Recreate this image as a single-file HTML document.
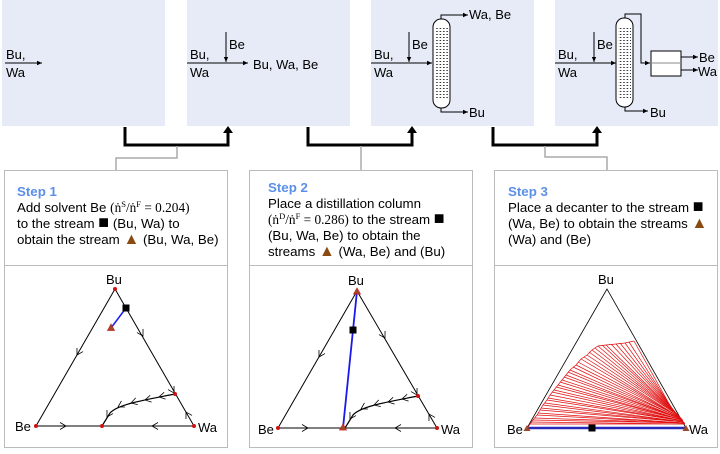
<!DOCTYPE html>
<html><head><meta charset="utf-8"><style>
body{margin:0;width:720px;height:449px;background:#fff;overflow:hidden;font-family:"Liberation Sans",sans-serif}
svg text{font-family:"Liberation Sans",sans-serif}
.m{font-family:"Liberation Serif",serif}
</style></head><body>
<svg width="720" height="449" viewBox="0 0 720 449" xmlns="http://www.w3.org/2000/svg">
<defs>
<marker id="a" markerWidth="6" markerHeight="6" refX="5" refY="3" orient="auto" markerUnits="userSpaceOnUse"><path d="M0,0.8L5,3L0,5.2z" fill="#000"/></marker>
<pattern id="dots" width="3.4" height="3" patternUnits="userSpaceOnUse"><rect x="1" y="1" width="1.6" height="1" fill="#333"/></pattern>
<path id="ch" d="M-6,-3.5L0,0L-6,3.5" fill="none" stroke="#000" stroke-width="0.8"/>
</defs>
<!-- top panels -->
<g fill="#e6ebf7">
<rect x="2" y="0" width="163" height="126"/><rect x="187" y="0" width="163" height="126"/>
<rect x="371" y="0" width="163" height="126"/><rect x="555" y="0" width="163" height="126"/>
</g>
<g font-size="13" fill="#000">
<line x1="5" y1="63" x2="42" y2="63" stroke="#000" stroke-width="1" marker-end="url(#a)"/>
<text x="6" y="59">Bu,</text><text x="6" y="77">Wa</text>
<line x1="187" y1="63" x2="248" y2="63" stroke="#000" marker-end="url(#a)"/>
<line x1="226" y1="32" x2="226" y2="62" stroke="#000" marker-end="url(#a)"/>
<text x="229" y="49">Be</text><text x="190" y="59">Bu,</text><text x="190" y="77">Wa</text>
<text x="253" y="69">Bu, Wa, Be</text>
<line x1="371" y1="63" x2="432" y2="63" stroke="#000" marker-end="url(#a)"/>
<line x1="409" y1="32" x2="409" y2="62" stroke="#000" marker-end="url(#a)"/>
<text x="412" y="49">Be</text><text x="374" y="59">Bu,</text><text x="374" y="77">Wa</text>
<rect x="433" y="19" width="17" height="89" rx="8" fill="#fff" stroke="#000"/>
<rect x="435" y="27" width="13" height="73" fill="url(#dots)"/>
<polyline points="441,19 441,15 468,15" fill="none" stroke="#000" marker-end="url(#a)"/>
<polyline points="441,108 441,112 468,112" fill="none" stroke="#000" marker-end="url(#a)"/>
<text x="469" y="19">Wa, Be</text><text x="469" y="117">Bu</text>
<line x1="555" y1="63" x2="616" y2="63" stroke="#000" marker-end="url(#a)"/>
<line x1="594" y1="32" x2="594" y2="62" stroke="#000" marker-end="url(#a)"/>
<text x="597" y="49">Be</text><text x="558" y="59">Bu,</text><text x="558" y="77">Wa</text>
<rect x="616" y="18" width="17" height="89" rx="8" fill="#fff" stroke="#000"/>
<rect x="618" y="26" width="13" height="73" fill="url(#dots)"/>
<polyline points="625,18 625,14 641,14 641,63 650,63" fill="none" stroke="#000" marker-end="url(#a)"/>
<rect x="651" y="51" width="30" height="25" fill="#fff" stroke="#000"/>
<line x1="651" y1="63" x2="681" y2="63" stroke="#888"/>
<line x1="681" y1="57" x2="698" y2="57" stroke="#000" marker-end="url(#a)"/>
<line x1="681" y1="70" x2="698" y2="70" stroke="#000" marker-end="url(#a)"/>
<text x="699" y="62">Be</text><text x="698" y="76">Wa</text>
<polyline points="625,107 625,111 648,111" fill="none" stroke="#000" marker-end="url(#a)"/>
<text x="650" y="117">Bu</text>
</g>
<g fill="none" stroke="#000" stroke-width="3">
<polyline points="125,127 125,145 228,145 228,131"/>
<polyline points="308,127 308,145 412,145 412,131"/>
<polyline points="493,127 493,145 597,145 597,131"/>
</g>
<g fill="#000"><path d="M223,133L228,126L233,133z"/><path d="M407,133L412,126L417,133z"/><path d="M592,133L597,126L602,133z"/></g>
<g fill="none" stroke="#aaa" stroke-width="1.5">
<polyline points="177,146 177,158 116,158 116,170"/>
<polyline points="361,146 361,170"/>
<polyline points="545,146 545,157 607,157 607,170"/>
</g>
<g fill="#fff" stroke="#bbb">
<rect x="4.5" y="170.5" width="223" height="277"/><line x1="4.5" y1="265.5" x2="227.5" y2="265.5"/>
<rect x="249.5" y="170.5" width="223" height="277"/><line x1="249.5" y1="265.5" x2="472.5" y2="265.5"/>
<rect x="494.5" y="170.5" width="223" height="277"/><line x1="494.5" y1="265.5" x2="717.5" y2="265.5"/>
</g>
<g font-size="13.3" fill="#000">
<text x="17" y="196" fill="#5b8fe8" font-weight="bold">Step 1</text>
<text x="17" y="212">Add solvent Be <tspan class="m">(ṅ<tspan font-size="8.5" dy="-5">S</tspan><tspan dy="5">/ṅ</tspan><tspan font-size="8.5" dy="-5">F</tspan><tspan dy="5"> = 0.204)</tspan></tspan></text>
<text x="17" y="228">to the stream <tspan font-size="18">■</tspan> (Bu, Wa) to</text>
<text x="17" y="244">obtain the stream <tspan fill="#8b4a10" font-size="16">▲</tspan> (Bu, Wa, Be)</text>
<text x="268" y="192" fill="#5b8fe8" font-weight="bold">Step 2</text>
<text x="268" y="208">Place a distillation column</text>
<text x="268" y="224"><tspan class="m">(ṅ<tspan font-size="8.5" dy="-5">D</tspan><tspan dy="5">/ṅ</tspan><tspan font-size="8.5" dy="-5">F</tspan><tspan dy="5"> = 0.286)</tspan></tspan> to the stream <tspan font-size="18">■</tspan></text>
<text x="268" y="240">(Bu, Wa, Be) to obtain the</text>
<text x="268" y="256">streams <tspan fill="#8b4a10" font-size="16">▲</tspan> (Wa, Be) and (Bu)</text>
<text x="508" y="196" fill="#5b8fe8" font-weight="bold">Step 3</text>
<text x="508" y="212">Place a decanter to the stream <tspan font-size="18">■</tspan></text>
<text x="508" y="228">(Wa, Be) to obtain the streams <tspan fill="#8b4a10" font-size="16">▲</tspan></text>
<text x="508" y="244">(Wa) and (Be)</text>
</g>
<!-- plot 1 -->
<g font-size="13">
<polygon points="115,289 36,426 194,426" fill="none" stroke="#000"/>
<text x="106" y="284">Bu</text><text x="15" y="431">Be</text><text x="198" y="432">Wa</text>
<path d="M175,394 C145,400 118,404 110,413 L102,426" fill="none" stroke="#000" stroke-width="1.2"/>
<use href="#ch" transform="translate(77,355) rotate(120)"/>
<use href="#ch" transform="translate(143,336) rotate(60)"/>
<use href="#ch" transform="translate(66,426)"/>
<use href="#ch" transform="translate(152,426) rotate(180)"/>
<use href="#ch" transform="translate(174,393) rotate(60)"/>
<use href="#ch" transform="translate(186,412) rotate(-120)"/>
<use href="#ch" transform="translate(159,397) rotate(168)"/>
<use href="#ch" transform="translate(145,400) rotate(168)"/>
<use href="#ch" transform="translate(131,403) rotate(163)"/>
<use href="#ch" transform="translate(118,407) rotate(150)"/>
<use href="#ch" transform="translate(107,417) rotate(120)"/>
<line x1="126" y1="308" x2="111" y2="328" stroke="#1a1aee" stroke-width="1.5"/>
<rect x="122.5" y="304.5" width="7" height="7" fill="#000"/>
<path d="M107.5,330.5L111,324L114.5,330.5z" fill="#9b4a2a" stroke="#c22" stroke-width="0.7"/>
<g fill="#d01010"><circle cx="115" cy="289" r="2"/><circle cx="36" cy="426" r="2"/><circle cx="194" cy="426" r="2"/><circle cx="175" cy="394" r="2"/><circle cx="102" cy="426" r="2"/></g>
</g>
<!-- plot 2 -->
<g font-size="13">
<polygon points="357,291 278,428 437,428" fill="none" stroke="#000"/>
<text x="348" y="285">Bu</text><text x="258" y="434">Be</text><text x="441" y="434">Wa</text>
<path d="M418,396 C388,402 361,406 353,415 L345,428" fill="none" stroke="#000" stroke-width="1.2"/>
<use href="#ch" transform="translate(319,357) rotate(120)"/>
<use href="#ch" transform="translate(385,338) rotate(60)"/>
<use href="#ch" transform="translate(308,428)"/>
<use href="#ch" transform="translate(395,428) rotate(180)"/>
<use href="#ch" transform="translate(417,395) rotate(60)"/>
<use href="#ch" transform="translate(429,414) rotate(-120)"/>
<use href="#ch" transform="translate(402,399) rotate(168)"/>
<use href="#ch" transform="translate(388,402) rotate(168)"/>
<use href="#ch" transform="translate(374,405) rotate(163)"/>
<use href="#ch" transform="translate(361,409) rotate(150)"/>
<use href="#ch" transform="translate(350,419) rotate(120)"/>
<line x1="357" y1="291" x2="343" y2="428" stroke="#1a1aee" stroke-width="1.8"/>
<rect x="349.5" y="326.5" width="7" height="7" fill="#000"/>
<g fill="#d01010"><circle cx="278" cy="428" r="2"/><circle cx="437" cy="428" r="2"/><circle cx="418" cy="396" r="2"/></g>
<path d="M353.5,294L357,288L360.5,294z" fill="#9b4a2a" stroke="#c22" stroke-width="0.7"/>
<path d="M339.5,430L343,424L346.5,430z" fill="#9b4a2a" stroke="#c22" stroke-width="0.7"/>
</g>
<!-- plot 3 -->
<g font-size="13">
<polygon points="607,289 527,428 686,428" fill="none" stroke="#000" stroke-width="0.8"/>
<text x="598" y="284">Bu</text><text x="507" y="434">Be</text><text x="689" y="434">Wa</text>
<g stroke="#e01010" stroke-width="0.7" fill="none">
<line x1="634" y1="341" x2="672" y2="409"/><line x1="629" y1="342" x2="673" y2="410"/><line x1="625" y1="343" x2="674" y2="411"/>
<line x1="620" y1="343" x2="675" y2="412"/><line x1="616" y1="344" x2="675" y2="412"/><line x1="611" y1="344" x2="676" y2="413"/><line x1="606" y1="345" x2="676" y2="413"/>
<line x1="602" y1="345" x2="677" y2="414"/><line x1="598" y1="346" x2="677" y2="414"/><line x1="595" y1="348" x2="678" y2="415"/><line x1="592" y1="350" x2="678" y2="415"/>
<line x1="589" y1="352" x2="679" y2="416"/><line x1="587" y1="355" x2="679" y2="416"/><line x1="584" y1="357" x2="679" y2="417"/><line x1="581" y1="359" x2="679" y2="417"/>
<line x1="578" y1="362" x2="680" y2="417"/><line x1="576" y1="365" x2="680" y2="417"/><line x1="573" y1="367" x2="680" y2="418"/><line x1="570" y1="370" x2="681" y2="418"/>
<line x1="568" y1="372" x2="681" y2="419"/><line x1="566" y1="375" x2="681" y2="419"/><line x1="564" y1="377" x2="682" y2="419"/><line x1="562" y1="380" x2="682" y2="419"/>
<line x1="560" y1="382" x2="682" y2="420"/><line x1="558" y1="385" x2="682" y2="420"/><line x1="556" y1="387" x2="683" y2="420"/><line x1="554" y1="390" x2="683" y2="420"/>
<line x1="552" y1="392" x2="683" y2="421"/><line x1="550" y1="395" x2="683" y2="421"/><line x1="548" y1="398" x2="683" y2="421"/><line x1="547" y1="400" x2="683" y2="421"/>
<line x1="545" y1="403" x2="684" y2="422"/><line x1="543" y1="405" x2="684" y2="422"/><line x1="541" y1="408" x2="684" y2="422"/><line x1="540" y1="410" x2="684" y2="422"/>
<line x1="538" y1="413" x2="684" y2="423"/><line x1="537" y1="415" x2="684" y2="423"/><line x1="535" y1="418" x2="685" y2="423"/><line x1="533" y1="420" x2="685" y2="423"/>
<line x1="531" y1="422" x2="685" y2="424"/><line x1="530" y1="424" x2="685" y2="424"/>
<polyline points="634,341 625,343 616,344 606,345 598,346 592,350 587,355 581,359 576,365 570,370 566,375 562,380 558,385 554,390 550,395 547,400 543,405 540,410 537,415 533,420 530,424 528,427"/>
</g>
<line x1="527" y1="428" x2="686" y2="428" stroke="#2a2ab8" stroke-width="2.5"/>
<rect x="588.5" y="424.5" width="7" height="7" fill="#000"/>
<path d="M523.5,431L527,425L530.5,431z" fill="#9b4a2a"/>
<path d="M682.5,431L686,425L689.5,431z" fill="#9b4a2a"/>
</g>
</svg>
</body></html>
